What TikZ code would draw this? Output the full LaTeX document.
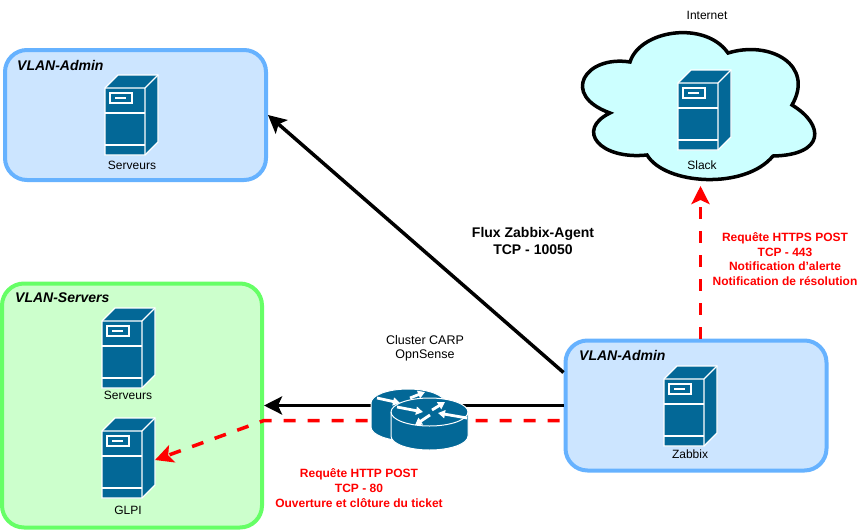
\documentclass[tikz,border=0pt]{standalone}
\usepackage{fontspec}
\setmainfont{Liberation Sans}
\usetikzlibrary{arrows.meta,calc}
\definecolor{iconblue}{HTML}{036897}
\definecolor{adminfill}{HTML}{CCE5FF}
\definecolor{adminline}{HTML}{66B2FF}
\definecolor{srvfill}{HTML}{CCFFCC}
\definecolor{srvline}{HTML}{66FF66}
\definecolor{cloudfill}{HTML}{CCFFFF}

\begin{document}
\begin{tikzpicture}[
    x=1pt, y=-1pt,
    vlanbox/.style={draw, line width=4pt, rounded corners=22pt, inner sep=0pt},
    adminbox/.style={vlanbox, draw=adminline, fill=adminfill, minimum width=261pt, minimum height=130pt},
    srvbox/.style={vlanbox, draw=srvline, fill=srvfill, minimum width=260pt, minimum height=244pt},
    vlantitle/.style={font=\fontsize{14}{16}\selectfont\bfseries\itshape, anchor=west, inner sep=0pt},
    srvlabel/.style={font=\fontsize{12}{14}\selectfont, inner sep=0pt},
    redlabel/.style={font=\fontsize{12}{14.7}\selectfont\bfseries, text=red, align=center, inner sep=0pt},
    blacklabel/.style={font=\fontsize{14}{17}\selectfont\bfseries, align=center, inner sep=0pt},
    flow/.style={line width=3.5pt, -{Stealth[length=18pt,width=18pt,inset=4pt]}},
    redflow/.style={flow, red, dash pattern=on 12pt off 12pt},
    routerarrow/.style={white, line width=2.8pt, -{Triangle[length=7pt,width=8pt]}},
    server/.pic={
        \fill[iconblue] (0,0) -- (13,-13) -- (53,-13) -- (53,54) -- (40,67) -- (0,67) -- cycle;
        \draw[white, line width=1.3pt, line join=miter] (0,0) -- (13,-13) -- (53,-13) -- (53,54) -- (40,67) -- (0,67) -- cycle;
        \draw[white, line width=1.3pt] (0,0) -- (40,0) -- (40,67) (40,0) -- (53,-13);
        \draw[white, line width=1.3pt] (0,25) -- (40,25) (0,57) -- (40,57);
        \draw[white, line width=1.3pt] (5,5) rectangle (27,15);
        \fill[white] (10,9) rectangle (21,11);
    },
]
\useasboundingbox (0,0) rectangle (861,530);

% VLAN boxes
\node[adminbox] (adminlan) at (135.5,115) {};
\node[srvbox] (serverlan) at (132,405.5) {};
\node[adminbox] (zabbixlan) at (696,405.5) {};
\node[vlantitle] (admintitle) at (17,65) {VLAN-Admin};
\node[vlantitle] (servertitle) at (15,298) {VLAN-Servers};
\node[vlantitle] (zabbixtitle) at (579,355) {VLAN-Admin};

% Internet cloud
\draw[line width=3.5pt, fill=cloudfill] (630,62)
    .. controls (640,30) and (705,20) .. (728,53)
    .. controls (770,40) and (815,65) .. (792,105)
    .. controls (825,125) and (825,155) .. (773,156)
    .. controls (745,190) and (665,185) .. (647,155)
    .. controls (600,160) and (575,130) .. (610,113)
    .. controls (560,95) and (585,55) .. (630,62) -- cycle;
\coordinate (cloudbottom) at (700.5,186);
\node[srvlabel] (internet) at (707,15) {Internet};

% Servers
\pic (adminsrv) at (105,88) {server};
\node[srvlabel] (adminlabel) at (132,165) {Serveurs};
\pic (slacksrv) at (678,83) {server};
\node[srvlabel] (slacklabel) at (702,165) {Slack};
\pic (serversrv) at (102,321) {server};
\node[srvlabel] (serverlabel) at (128,395) {Serveurs};
\pic (glpisrv) at (102,431) {server};
\node[srvlabel] (glpilabel) at (128,510) {GLPI};
\pic (zabbixsrv) at (664,379) {server};
\node[srvlabel] (zabbixlabel) at (690,454) {Zabbix};
\coordinate (glpiport) at (155,460);

% Flows
\draw[flow] ([yshift=33pt]zabbixlan.west) -- (adminlan.east);
\draw[flow] (zabbixlan.west) -- (serverlan.east);
\draw[redflow, dash phase=20pt] ([yshift=-15pt]zabbixlan.west) -- ([yshift=-15pt]serverlan.east) -- (glpiport);
\draw[redflow] ([xshift=4.5pt]zabbixlan.north) -- (cloudbottom);

% Router
\draw[white, line width=1pt, fill=iconblue] (371,403) -- (371,427) arc(180:0:37 and 14) -- (445,403) arc(0:-180:37 and 14) -- cycle;
\draw[routerarrow] (377,398) -- (400,403);
\draw[routerarrow] (410,398) -- (425,392);
\draw[white, line width=1pt, fill=iconblue] (391,412) -- (391,436) arc(180:0:38.5 and 14) -- (468,412) arc(0:-180:38.5 and 14) -- cycle;
\draw[white, line width=1pt] (391,412) arc(180:0:38.5 and 14);
\draw[routerarrow] (397,407) -- (423,412);
\draw[routerarrow] (432,410) -- (445,402);
\draw[routerarrow] (430,415) -- (415,425);
\draw[routerarrow] (467,418) -- (438,413);
\node[srvlabel, align=center, font=\fontsize{12.5}{14.5}\selectfont] (routerlabel) at (425,348.5) {Cluster CARP\\OpnSense};

% Flow labels
\node[blacklabel] (agentlabel) at (533,240.5) {Flux Zabbix-Agent\\TCP - 10050};
\node[redlabel] (slacktext) at (785,259) {Requête HTTPS POST\\TCP - 443\\Notification d'alerte\\Notification de résolution};
\node[redlabel] (glpitext) at (359,488) {Requête HTTP POST\\TCP - 80\\Ouverture et clôture du ticket};
\end{tikzpicture}
\end{document}
